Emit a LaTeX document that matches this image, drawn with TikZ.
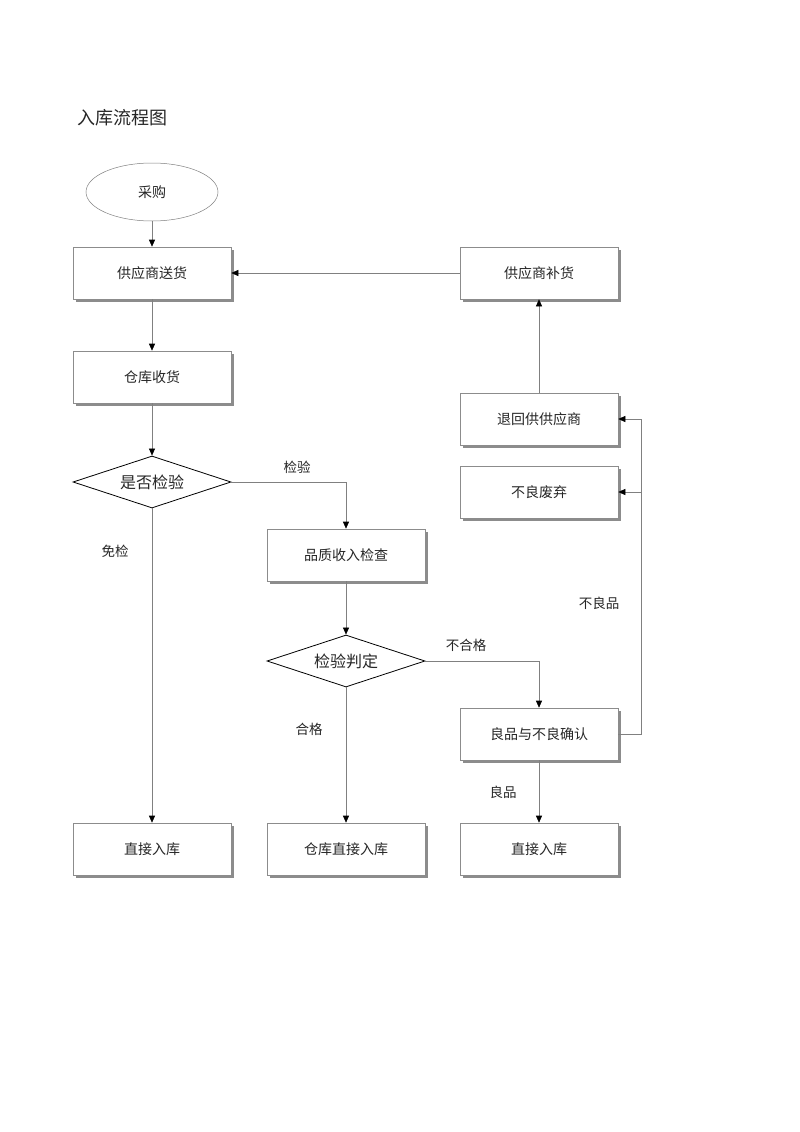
\documentclass[tikz,border=0pt]{standalone}
\usepackage{fontspec}
\setmainfont{Liberation Serif}
\newfontfamily\cjk{Noto Sans CJK SC}
\usetikzlibrary{shapes.geometric,arrows.meta,shadows}
\begin{document}
\begin{tikzpicture}[x=1pt,y=-1pt,
  every node/.style={font=\cjk\fontsize{14}{16}\selectfont, text=black!85},
  boxn/.style={draw=black!45, line width=0.6pt, fill=white, minimum width=158pt, minimum height=52pt, inner sep=0pt,
     drop shadow={shadow xshift=3pt, shadow yshift=-3pt, fill=black!45, opacity=1}},
  dia/.style={diamond, draw=black, line width=0.8pt, fill=white, aspect=3.04, minimum width=158pt, minimum height=52pt, inner sep=0pt},
  ell/.style={ellipse, draw=black!50, line width=0.5pt, minimum width=132pt, minimum height=58pt, inner sep=0pt},
  conn/.style={draw=black!50, line width=0.6pt, -{Triangle[length=7pt,width=6pt,fill=black,color=black]}},
  plain/.style={draw=black!50, line width=0.6pt},
  lab/.style={font=\cjk\fontsize{13.5}{15}\selectfont, text=black!85}
]
\useasboundingbox (0,0) rectangle (800,1132);
\fill[white] (0,0) rectangle (800,1132);

\node[anchor=west, font=\cjk\fontsize{18}{21}\selectfont] (title) at (74,118) {入库流程图};

\node[ell] (cg) at (152,192) {采购};
\node[boxn] (gys) at (152,273) {供应商送货};
\node[boxn] (cksh) at (152,377) {仓库收货};
\node[dia] (sfjy) at (152,482) {\fontsize{16}{18}\selectfont 是否检验};
\node[boxn] (pzsr) at (346,555) {品质收入检查};
\node[dia] (jypd) at (346,661) {\fontsize{16}{18}\selectfont 检验判定};
\node[boxn] (lpqr) at (539,734) {良品与不良确认};
\node[boxn] (zjrk1) at (152,849) {直接入库};
\node[boxn] (ckzj) at (346,849) {仓库直接入库};
\node[boxn] (zjrk2) at (539,849) {直接入库};
\node[boxn] (gybh) at (539,273) {供应商补货};
\node[boxn] (thgy) at (539,419) {退回供供应商};
\node[boxn] (blfq) at (539,492) {不良废弃};

\coordinate (c1) at (346,482);
\coordinate (c2) at (539,661);
\coordinate (c3) at (641,734);
\coordinate (c4) at (641,419);
\coordinate (c5) at (641,492);

\draw[conn] (cg) -- (gys);
\draw[conn] (gys) -- (cksh);
\draw[conn] (cksh) -- (sfjy);
\draw[conn] (sfjy) -- (zjrk1);
\draw[conn] (sfjy.east) -- (c1) -- (pzsr.north);
\draw[conn] (pzsr) -- (jypd);
\draw[conn] (jypd) -- (ckzj);
\draw[conn] (jypd.east) -- (c2) -- (lpqr.north);
\draw[conn] (lpqr) -- (zjrk2);
\draw[plain] (lpqr.east) -- (c3) -- (c4);
\draw[conn] (c4) -- (thgy.east);
\draw[conn] (c5) -- (blfq.east);
\draw[conn] (thgy) -- (gybh);
\draw[conn] (gybh) -- (gys);

\node[lab] (l1) at (115,551) {免检};
\node[lab] (l2) at (297,467) {检验};
\node[lab] (l3) at (309,729) {合格};
\node[lab] (l4) at (466,645) {不合格};
\node[lab] (l5) at (503,792) {良品};
\node[lab] (l6) at (599,603) {不良品};
\end{tikzpicture}
\end{document}
